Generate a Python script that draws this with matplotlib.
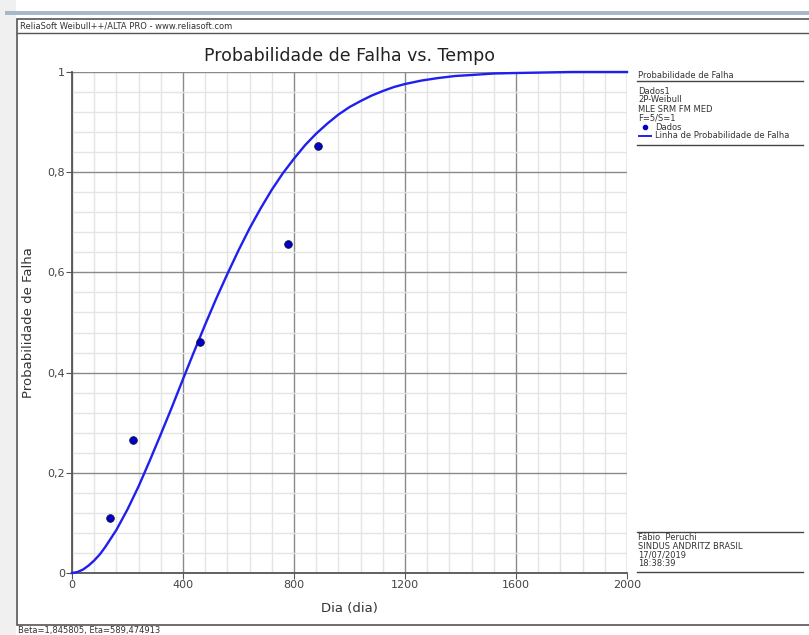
import numpy as np
import matplotlib.pyplot as plt
from matplotlib.patches import Rectangle
from matplotlib.lines import Line2D
from matplotlib.ticker import MultipleLocator, FuncFormatter

# data points (tempo, probabilidade)
dados_t = [137, 219, 460, 777, 885]
dados_f = [0.109, 0.266, 0.461, 0.657, 0.852]

# fitted line
linha_t = [0, 20, 40, 60, 80, 100, 120, 160, 200, 240, 280, 320, 360, 400,
           440, 480, 520, 560, 600, 640, 680, 720, 760, 800, 840, 880, 920,
           960, 1000, 1040, 1080, 1120, 1160, 1200, 1260, 1320, 1380, 1440,
           1520, 1600, 1700, 1800, 2000]
linha_f = [0.0, 0.002, 0.007, 0.015, 0.025, 0.037, 0.052, 0.086, 0.127, 0.173,
           0.224, 0.277, 0.331, 0.387, 0.442, 0.496, 0.548, 0.597, 0.644,
           0.688, 0.728, 0.765, 0.798, 0.827, 0.854, 0.877, 0.897, 0.915,
           0.930, 0.942, 0.953, 0.962, 0.970, 0.976, 0.983, 0.988, 0.992,
           0.994, 0.997, 0.998, 0.999, 1.0, 1.0]

legend_lines = ['Dados1', '2P-Weibull', 'MLE SRM FM MED', 'F=5/S=1']
info_lines = ['Fábio  Peruchi', 'SINDUS ANDRITZ BRASIL', '17/07/2019', '18:38:39']

W, H = 809, 635
fig = plt.figure(figsize=(W / 100, H / 100), dpi=100)


def fx(px):
    return px / W


def fy(py):
    return 1 - py / H


def ylabel_fmt(v, pos):
    v = round(v, 2)
    if v == 0:
        return '0'
    if v == 1:
        return '1'
    return f'{v:.1f}'.replace('.', ',')


# window chrome (behind the axes)
fig.add_artist(Rectangle((0, 0), fx(16), 1, transform=fig.transFigure,
                         facecolor='#f0f0f0', edgecolor='none', zorder=-5))
fig.add_artist(Rectangle((fx(5), fy(15)), 1, fy(11) - fy(15), transform=fig.transFigure,
                         facecolor='#a9b7cb', edgecolor='none', zorder=-5))
fig.add_artist(Rectangle((fx(17), fy(625)), 1, fy(19) - fy(625), transform=fig.transFigure,
                         facecolor='white', edgecolor='#555555', lw=1.2, zorder=-4))
fig.add_artist(Line2D([fx(17), 1], [fy(33), fy(33)], transform=fig.transFigure,
                      color='#555555', lw=1))
fig.text(fx(20), fy(26), 'ReliaSoft Weibull++/ALTA PRO - www.reliasoft.com',
         fontsize=6, va='center', ha='left', color='#333333')
fig.text(fx(18), fy(631), 'Beta=1,845805, Eta=589,474913',
         fontsize=6, va='center', ha='left', color='#333333')

ax = fig.add_axes([fx(72), fy(573), fx(627) - fx(72), fy(72) - fy(573)])
ax.patch.set_alpha(0)
ax.set_xlim(0, 2000)
ax.set_ylim(0, 1)
ax.xaxis.set_major_locator(MultipleLocator(400))
ax.xaxis.set_minor_locator(MultipleLocator(80))
ax.yaxis.set_major_locator(MultipleLocator(0.2))
ax.yaxis.set_minor_locator(MultipleLocator(0.04))
ax.grid(which='minor', color='#e4e4e4', lw=1)
ax.grid(which='major', color='#8a8a8a', lw=1)
ax.set_axisbelow(True)
ax.tick_params(which='minor', length=0)
ax.tick_params(which='major', length=4, color='#555555', labelsize=8,
               labelcolor='#444444', pad=1)
ax.yaxis.set_major_formatter(FuncFormatter(ylabel_fmt))
for s in ['top', 'right']:
    ax.spines[s].set_visible(False)
for s in ['left', 'bottom']:
    ax.spines[s].set_color('#555555')
    ax.spines[s].set_linewidth(1.3)

ax.plot(linha_t, linha_f, color='#1f1ff0', lw=1.7, clip_on=False, zorder=3,
        solid_joinstyle='round')
ax.plot(dados_t, dados_f, 'o', color='#0000c8', mec='#111133', mew=0.6, ms=5.5, zorder=4)

ax.set_title('Probabilidade de Falha vs. Tempo', fontsize=12.5, color='#222222', pad=8)
ax.set_xlabel('Dia (dia)', fontsize=9.5, color='#333333', labelpad=9)
ax.set_ylabel('Probabilidade de Falha', fontsize=9.5, color='#333333')
ax.yaxis.set_label_coords(-0.067, 0.5)

# legend panel
x0, x1 = fx(637), fx(803)
fig.text(fx(638), fy(76), 'Probabilidade de Falha', fontsize=6, va='center', color='#333333')
fig.add_artist(Line2D([x0, x1], [fy(81), fy(81)], transform=fig.transFigure, color='#444444', lw=1))
for i, t in enumerate(legend_lines):
    fig.text(fx(638), fy(91 + 9 * i), t, fontsize=6, va='center', color='#333333')
fig.add_artist(Line2D([fx(645)], [fy(127)], transform=fig.transFigure, marker='o',
                      ms=3, color='#0000c8'))
fig.text(fx(655), fy(127), 'Dados', fontsize=6, va='center', color='#333333')
fig.add_artist(Line2D([fx(639), fx(651)], [fy(136), fy(136)], transform=fig.transFigure,
                      color='#1f1ff0', lw=1.4))
fig.text(fx(655), fy(136), 'Linha de Probabilidade de Falha', fontsize=6, va='center',
         color='#333333')
fig.add_artist(Line2D([x0, x1], [fy(145), fy(145)], transform=fig.transFigure, color='#444444', lw=1))

# info panel
fig.add_artist(Line2D([x0, x1], [fy(532), fy(532)], transform=fig.transFigure, color='#444444', lw=1))
for i, t in enumerate(info_lines):
    fig.text(fx(638), fy(538 + 8.5 * i), t, fontsize=6, va='center', color='#333333')
fig.add_artist(Line2D([x0, x1], [fy(572), fy(572)], transform=fig.transFigure, color='#444444', lw=1))

fig.savefig('out.png', dpi=100)
